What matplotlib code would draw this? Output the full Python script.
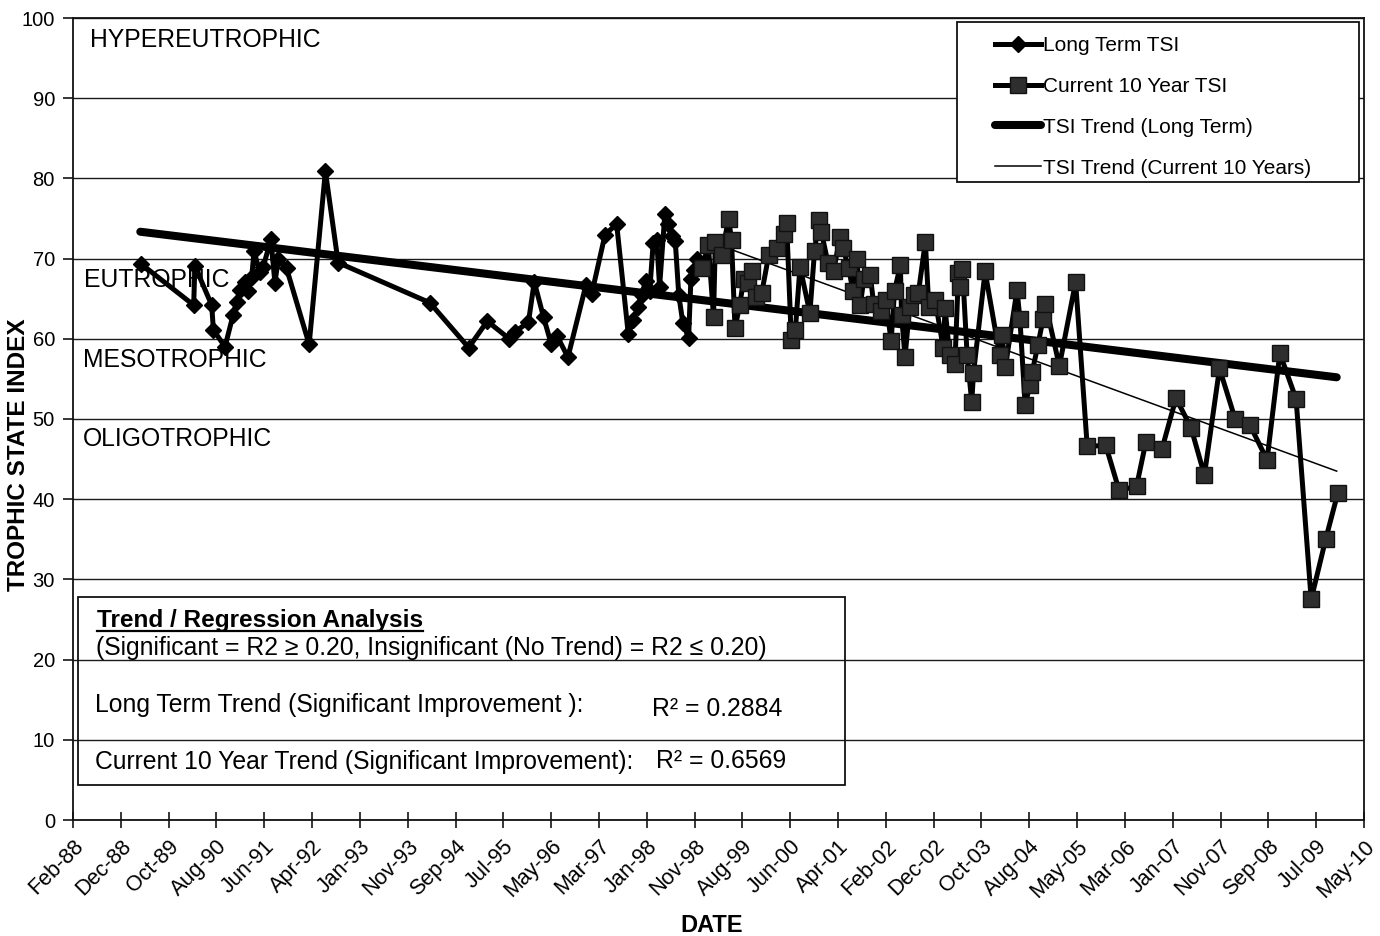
import matplotlib
matplotlib.use("Agg")
import matplotlib.pyplot as plt
from matplotlib.patches import Rectangle
from matplotlib.lines import Line2D

plt.rcParams['font.family'] = ['Liberation Sans', 'DejaVu Sans']

# ---------------- data ----------------
x_tick_labels = ['Feb-88', 'Dec-88', 'Oct-89', 'Aug-90', 'Jun-91', 'Apr-92', 'Jan-93',
                 'Nov-93', 'Sep-94', 'Jul-95', 'May-96', 'Mar-97', 'Jan-98', 'Nov-98',
                 'Aug-99', 'Jun-00', 'Apr-01', 'Feb-02', 'Dec-02', 'Oct-03', 'Aug-04',
                 'May-05', 'Mar-06', 'Jan-07', 'Nov-07', 'Sep-08', 'Jul-09', 'May-10']
tick_start = 1988.10          # decimal year of first tick (Feb-88)
tick_step = 301 / 365.25      # spacing of date ticks in years

long_years = [1989.28, 1990.18, 1990.20, 1990.49, 1990.52, 1990.72, 1990.86, 1990.92, 1990.98, 1991.06,
              1991.11, 1991.18, 1991.22, 1991.32, 1991.38, 1991.51, 1991.58, 1991.64, 1991.78, 1992.17,
              1992.45, 1992.67, 1994.25, 1994.92, 1995.24, 1995.62, 1995.71, 1995.95, 1996.05, 1996.21,
              1996.34, 1996.44, 1996.63, 1996.94, 1997.04, 1997.27, 1997.47, 1997.67, 1997.76, 1997.83,
              1997.90, 1997.97, 1998.04, 1998.10, 1998.16, 1998.21, 1998.30, 1998.36, 1998.42, 1998.48,
              1998.54, 1998.61, 1998.71, 1998.75, 1998.80, 1998.85]
long_tsi = [69.3, 64.2, 69.1, 64.2, 61.1, 59.0, 63.0, 64.6, 66.1, 67.1,
            66.0, 67.7, 70.9, 68.3, 69.0, 72.4, 67.0, 70.0, 68.8, 59.3,
            80.9, 69.5, 64.5, 58.9, 62.2, 60.0, 60.8, 62.1, 67.1, 62.7,
            59.4, 60.4, 57.7, 66.7, 65.6, 73.0, 74.3, 60.6, 62.3, 64.0,
            65.5, 67.2, 66.0, 72.0, 72.3, 66.5, 75.5, 74.3, 72.8, 72.2,
            65.5, 62.0, 60.1, 67.5, 68.6, 70.0]

cur_years = [1998.94, 1999.05, 1999.14, 1999.17, 1999.28, 1999.40, 1999.45, 1999.51, 1999.59, 1999.66,
             1999.74, 1999.80, 1999.88, 1999.97, 2000.09, 2000.23, 2000.35, 2000.40, 2000.48, 2000.55,
             2000.63, 2000.80, 2000.88, 2000.95, 2001.00, 2001.11, 2001.21, 2001.32, 2001.37, 2001.47,
             2001.54, 2001.61, 2001.67, 2001.73, 2001.84, 2001.90, 2002.02, 2002.11, 2002.20, 2002.26,
             2002.36, 2002.38, 2002.44, 2002.52, 2002.59, 2002.67, 2002.79, 2002.85, 2002.96, 2003.10,
             2003.13, 2003.21, 2003.30, 2003.36, 2003.39, 2003.43, 2003.51, 2003.59, 2003.62, 2003.82,
             2004.07, 2004.11, 2004.17, 2004.37, 2004.42, 2004.51, 2004.59, 2004.63, 2004.73, 2004.82,
             2004.86, 2005.10, 2005.38, 2005.58, 2005.90, 2006.13, 2006.43, 2006.59, 2006.87, 2007.11,
             2007.37, 2007.60, 2007.86, 2008.13, 2008.38, 2008.68, 2008.90, 2009.18, 2009.44, 2009.69,
             2009.90]
cur_tsi = [68.8, 71.7, 62.7, 72.1, 70.5, 75.0, 72.3, 61.3, 64.2, 67.4,
           66.9, 68.4, 65.2, 65.7, 70.4, 71.3, 73.1, 74.4, 59.9, 61.1,
           69.0, 63.2, 70.9, 74.8, 73.3, 69.5, 68.5, 72.7, 71.3, 68.8,
           66.0, 70.0, 64.2, 67.5, 68.0, 64.3, 63.5, 64.8, 59.7, 66.0,
           69.2, 63.0, 57.7, 64.0, 65.5, 65.7, 72.1, 64.0, 64.8, 58.8,
           63.8, 58.0, 56.9, 68.2, 66.5, 68.7, 58.0, 52.1, 55.7, 68.4,
           58.0, 60.5, 56.5, 66.1, 62.5, 51.7, 54.2, 55.8, 59.2, 62.5,
           64.4, 56.6, 67.1, 46.6, 46.7, 41.1, 41.6, 47.1, 46.3, 52.6,
           48.9, 43.0, 56.3, 50.0, 49.3, 44.9, 58.2, 52.5, 27.5, 35.0,
           40.8]

long_trend_years = [1989.26, 2009.88]
long_trend_vals = [73.35, 55.2]
cur_trend_years = [1999.42, 2009.88]
cur_trend_vals = [71.2, 43.5]

zone_labels = ['HYPEREUTROPHIC', 'EUTROPHIC', 'MESOTROPHIC', 'OLIGOTROPHIC']
zone_label_y = [97.3, 67.3, 57.3, 47.5]

legend_labels = ['Long Term TSI', 'Current 10 Year TSI',
                 'TSI Trend (Long Term)', 'TSI Trend (Current 10 Years)']

box_title = 'Trend / Regression Analysis'
box_sub = '(Significant = R2 \u2265 0.20, Insignificant (No Trend) = R2 \u2264 0.20)'
box_lt = 'Long Term Trend (Significant Improvement ):'
box_lt_r2 = 'R\u00b2 = 0.2884'
box_ct = 'Current 10 Year Trend (Significant Improvement):'
box_ct_r2 = 'R\u00b2 = 0.6569'

# ---------------- figure ----------------
W, H = 1380, 936
fig = plt.figure(figsize=(W / 100, H / 100), dpi=100)
L, R, T, B = 73, 1364, 18, 820
ax = fig.add_axes([L / W, 1 - B / H, (R - L) / W, (B - T) / H])


def axfrac_x(px):
    return (px - L) / (R - L)


def axfrac_y(py):
    return (B - py) / (B - T)


ax.set_ylim(0, 100)
ax.set_yticks(range(0, 101, 10))
ax.yaxis.grid(True, color='#1a1a1a', linewidth=1.0)
ax.set_axisbelow(True)

xt = [tick_start + i * tick_step for i in range(len(x_tick_labels))]
ax.set_xlim(xt[0], xt[-1])
ax.set_xticks(xt)
ax.set_xticklabels(x_tick_labels, rotation=45, ha='right', va='top',
                   rotation_mode='anchor', fontsize=15.5)
ax.tick_params(axis='x', direction='inout', length=11, width=1.1, pad=6)
ax.tick_params(axis='y', direction='out', length=7, width=1.1, labelsize=14.5, pad=6)
for s in ax.spines.values():
    s.set_linewidth(1.3)
    s.set_color('#111111')

# trend lines
ax.plot(long_trend_years, long_trend_vals, color='black', lw=5.8,
        solid_capstyle='round', zorder=3, label=legend_labels[2])
ax.plot(cur_trend_years, cur_trend_vals, color='black', lw=1.1, zorder=3,
        label=legend_labels[3])

# data series
ax.plot(long_years, long_tsi, color='black', lw=3.6, marker='D', markersize=8.5,
        markerfacecolor='black', markeredgecolor='black', zorder=4, label=legend_labels[0])
ax.plot(cur_years, cur_tsi, color='black', lw=3.6, marker='s', markersize=11,
        markerfacecolor='#2e2e2e', markeredgecolor='#111111', zorder=4, label=legend_labels[1])

# zone labels
zone_x = [90, 84, 83, 83]
for lab, yv, xp in zip(zone_labels, zone_label_y, zone_x):
    ax.text(axfrac_x(xp), yv, lab, transform=ax.get_yaxis_transform(),
            fontsize=17.8, va='center', ha='left', zorder=5)

# legend box
ax.add_patch(Rectangle((axfrac_x(957), axfrac_y(182)), (1359 - 957) / (R - L),
                       (182 - 22) / (B - T), transform=ax.transAxes,
                       facecolor='white', edgecolor='#111111', lw=1.3, zorder=6))
h, l = ax.get_legend_handles_labels()
order = [2, 3, 0, 1]
leg = ax.legend([h[i] for i in order], [l[i] for i in order],
                loc='upper left', bbox_to_anchor=(995 / W, 1 - 36 / H),
                bbox_transform=fig.transFigure, frameon=False, fontsize=15,
                borderpad=0, borderaxespad=0, handlelength=2.2,
                handletextpad=0.12, labelspacing=1.05)
leg.set_zorder(7)

# regression box
ax.add_patch(Rectangle((axfrac_x(78), axfrac_y(785)), (845 - 78) / (R - L),
                       (785 - 597) / (B - T), transform=ax.transAxes,
                       facecolor='none', edgecolor='#111111', lw=1.3, zorder=5))
t_title = ax.text(axfrac_x(97), axfrac_y(620), box_title, transform=ax.transAxes,
                  fontsize=17.6, fontweight='bold', va='center', ha='left', zorder=6)
ax.text(axfrac_x(96), axfrac_y(648), box_sub, transform=ax.transAxes,
        fontsize=17.8, va='center', ha='left', zorder=6)
ax.text(axfrac_x(95), axfrac_y(705), box_lt, transform=ax.transAxes,
        fontsize=17.8, va='center', ha='left', zorder=6)
ax.text(axfrac_x(652), axfrac_y(709), box_lt_r2, transform=ax.transAxes,
        fontsize=17.8, va='center', ha='left', zorder=6)
ax.text(axfrac_x(95), axfrac_y(762), box_ct, transform=ax.transAxes,
        fontsize=17.8, va='center', ha='left', zorder=6)
ax.text(axfrac_x(656), axfrac_y(761), box_ct_r2, transform=ax.transAxes,
        fontsize=17.8, va='center', ha='left', zorder=6)

# axis titles
fig.text(19 / W, 1 - 455 / H, 'TROPHIC STATE INDEX', rotation=90, fontsize=17.5,
         fontweight='bold', ha='center', va='center')
fig.text(712 / W, 1 - 925 / H, 'DATE', fontsize=17, fontweight='bold',
         ha='center', va='center')

# underline for the box title
fig.canvas.draw()
bb = t_title.get_window_extent()
inv = fig.transFigure.inverted()
(x0, y0) = inv.transform((bb.x0, bb.y0 + 1))
(x1, _) = inv.transform((bb.x1, bb.y0 + 1))
fig.add_artist(Line2D([x0, x1], [y0, y0], transform=fig.transFigure,
                      color='black', lw=1.6))

fig.savefig('out.png', dpi=100)
